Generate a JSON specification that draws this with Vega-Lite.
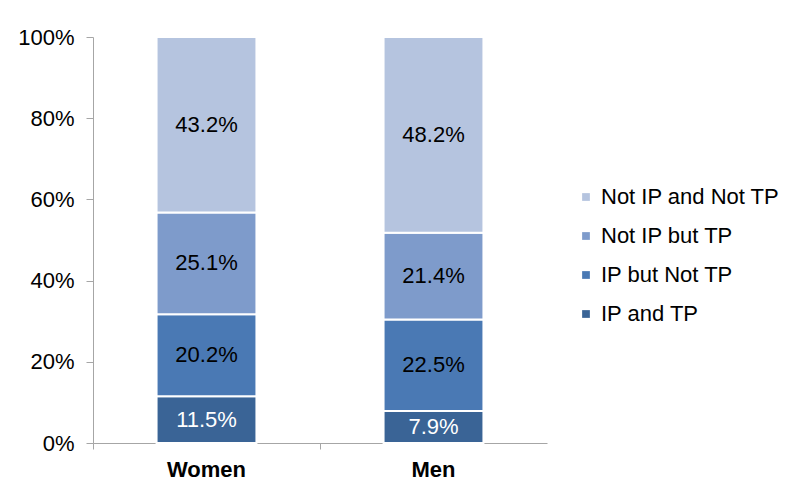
{
  "$schema": "https://vega.github.io/schema/vega-lite/v6.json",
  "autosize": "none",
  "width": 454,
  "height": 406,
  "padding": {"left": 93, "top": 37, "right": 239, "bottom": 45},
  "background": "white",
  "config": {
    "font": "Liberation Sans",
    "view": {"stroke": null},
    "axis": {"grid": false, "domainColor": "#A6A6A6", "tickColor": "#A6A6A6", "labelColor": "#000000"}
  },
  "data": {
    "values": [
      {"group": "Women", "segment": "IP and TP", "o": 1, "share": 0.115},
      {"group": "Women", "segment": "IP but Not TP", "o": 2, "share": 0.202},
      {"group": "Women", "segment": "Not IP but TP", "o": 3, "share": 0.251},
      {"group": "Women", "segment": "Not IP and Not TP", "o": 4, "share": 0.432},
      {"group": "Men", "segment": "IP and TP", "o": 1, "share": 0.079},
      {"group": "Men", "segment": "IP but Not TP", "o": 2, "share": 0.225},
      {"group": "Men", "segment": "Not IP but TP", "o": 3, "share": 0.214},
      {"group": "Men", "segment": "Not IP and Not TP", "o": 4, "share": 0.482}
    ]
  },
  "encoding": {
    "x": {
      "field": "group",
      "type": "nominal",
      "sort": ["Women", "Men"],
      "scale": {"paddingInner": 0, "paddingOuter": 0},
      "axis": {
        "title": null,
        "labelAngle": 0,
        "labelFont": "Liberation Sans",
        "labelFontSize": 22,
        "labelFontWeight": "bold",
        "labelPadding": 10,
        "tickSize": 6,
        "bandPosition": 0
      }
    },
    "y": {
      "field": "share",
      "type": "quantitative",
      "stack": "zero",
      "scale": {"domain": [0, 1], "nice": false},
      "axis": {
        "title": null,
        "format": ".0%",
        "values": [0, 0.2, 0.4, 0.6, 0.8, 1],
        "labelFontSize": 22,
        "labelPadding": 12,
        "tickSize": 7
      }
    },
    "order": {"field": "o", "type": "quantitative", "sort": "ascending"}
  },
  "layer": [
    {
      "mark": {"type": "bar", "width": {"band": 0.44}, "stroke": "white", "strokeWidth": 2},
      "encoding": {
        "color": {
          "field": "segment",
          "type": "nominal",
          "scale": {
            "domain": ["Not IP and Not TP", "Not IP but TP", "IP but Not TP", "IP and TP"],
            "range": ["#B5C4DF", "#7E9BCB", "#4A79B4", "#3A6496"]
          },
          "legend": {
            "title": null,
            "orient": "none",
            "legendX": 482,
            "legendY": 149,
            "symbolType": "square",
            "symbolSize": 60,
            "symbolStrokeWidth": 0,
            "labelFontSize": 22,
            "labelLimit": 0,
            "labelColor": "#000000",
            "labelOffset": 4,
            "rowPadding": 17
          }
        }
      }
    },
    {
      "mark": {"type": "text", "fontSize": 22, "baseline": "middle", "align": "center"},
      "encoding": {
        "y": {"field": "share", "type": "quantitative", "stack": "zero", "bandPosition": 0.5},
        "text": {"field": "share", "type": "quantitative", "format": ".1%"},
        "color": {
          "condition": {"test": "datum.segment === 'IP and TP'", "value": "#FFFFFF"},
          "value": "#000000"
        }
      }
    }
  ]
}
